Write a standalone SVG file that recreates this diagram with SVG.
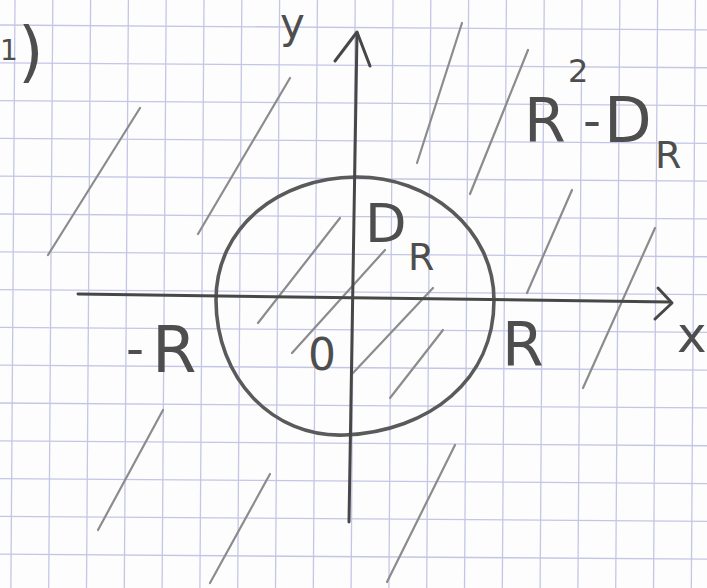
<svg xmlns="http://www.w3.org/2000/svg" width="707" height="588" viewBox="0 0 707 588">
<style>
.g line{stroke:#c4c6e6;stroke-width:1.3}
.hatch{stroke:#8c8c8c;stroke-width:2.2;stroke-linecap:round;fill:none}
.axis{stroke:#474747;stroke-width:3;stroke-linecap:round;stroke-linejoin:round;fill:none}
.circ{stroke:#5a5a5a;stroke-width:3.6;fill:none}
.lbl{font-family:"DejaVu Sans",sans-serif;fill:#4e4e4e}
</style>
<rect width="707" height="588" fill="#fdfdfd"/>
<g class="g" id="grid" transform="rotate(0.4)">
<line x1="15" y1="-10" x2="15" y2="600"/>
<line x1="52.8" y1="-10" x2="52.8" y2="600"/>
<line x1="90.6" y1="-10" x2="90.6" y2="600"/>
<line x1="128.4" y1="-10" x2="128.4" y2="600"/>
<line x1="166.2" y1="-10" x2="166.2" y2="600"/>
<line x1="204" y1="-10" x2="204" y2="600"/>
<line x1="241.8" y1="-10" x2="241.8" y2="600"/>
<line x1="279.6" y1="-10" x2="279.6" y2="600"/>
<line x1="317.4" y1="-10" x2="317.4" y2="600"/>
<line x1="355.2" y1="-10" x2="355.2" y2="600"/>
<line x1="393" y1="-10" x2="393" y2="600"/>
<line x1="430.8" y1="-10" x2="430.8" y2="600"/>
<line x1="468.6" y1="-10" x2="468.6" y2="600"/>
<line x1="506.4" y1="-10" x2="506.4" y2="600"/>
<line x1="544.2" y1="-10" x2="544.2" y2="600"/>
<line x1="582" y1="-10" x2="582" y2="600"/>
<line x1="619.8" y1="-10" x2="619.8" y2="600"/>
<line x1="657.6" y1="-10" x2="657.6" y2="600"/>
<line x1="695.4" y1="-10" x2="695.4" y2="600"/>
<line x1="-10" y1="25" x2="720" y2="25"/>
<line x1="-10" y1="62.8" x2="720" y2="62.8"/>
<line x1="-10" y1="100.6" x2="720" y2="100.6"/>
<line x1="-10" y1="138.4" x2="720" y2="138.4"/>
<line x1="-10" y1="176.2" x2="720" y2="176.2"/>
<line x1="-10" y1="214" x2="720" y2="214"/>
<line x1="-10" y1="251.8" x2="720" y2="251.8"/>
<line x1="-10" y1="289.6" x2="720" y2="289.6"/>
<line x1="-10" y1="327.4" x2="720" y2="327.4"/>
<line x1="-10" y1="365.2" x2="720" y2="365.2"/>
<line x1="-10" y1="403" x2="720" y2="403"/>
<line x1="-10" y1="440.8" x2="720" y2="440.8"/>
<line x1="-10" y1="478.6" x2="720" y2="478.6"/>
<line x1="-10" y1="516.4" x2="720" y2="516.4"/>
<line x1="-10" y1="554.2" x2="720" y2="554.2"/>
</g>

<g id="hatching">
<line class="hatch" x1="48" y1="255" x2="140" y2="108"/>
<line class="hatch" x1="198" y1="234" x2="290" y2="78"/>
<line class="hatch" x1="417" y1="163" x2="462" y2="23"/>
<line class="hatch" x1="470" y1="194" x2="528" y2="50"/>
<line class="hatch" x1="527" y1="293" x2="572" y2="190"/>
<line class="hatch" x1="583" y1="388" x2="655" y2="228"/>
<line class="hatch" x1="258" y1="323" x2="340" y2="218"/>
<line class="hatch" x1="292" y1="353" x2="385" y2="250"/>
<line class="hatch" x1="353" y1="373" x2="433" y2="288"/>
<line class="hatch" x1="390" y1="398" x2="443" y2="330"/>
<line class="hatch" x1="98" y1="530" x2="163" y2="410"/>
<line class="hatch" x1="210" y1="583" x2="270" y2="474"/>
<line class="hatch" x1="387" y1="582" x2="455" y2="445"/>
</g>

<g id="circle">
<path class="circ" d="M216,300 C216,226 280,178 355,177 C430,176 494,230 494,300 C494,380 430,431 345,435 C272,438 216,378 216,300 Z"/>
</g>

<g id="connectors">
<g id="x-axis">
<path class="axis" d="M78,294 L670,302"/>
<path class="axis" d="M658,288 L672,303 L655,319"/>
</g>
<g id="y-axis">
<path class="axis" d="M357,33 L349,522"/>
<path class="axis" d="M335,61 L357,32 L370,66"/>
</g>
</g>

<g id="labels">
<text class="lbl" font-size="28" x="0" y="60">1</text>
<text class="lbl" font-size="66" x="18" y="74">)</text>
<text class="lbl" font-size="42" x="280" y="38">y</text>
<text class="lbl" font-size="50" x="677" y="352">x</text>
<text class="lbl"><tspan font-size="60" x="524" y="142">R</tspan><tspan font-size="32" x="568" y="82">2</tspan><tspan font-size="50" x="583" y="138">-</tspan><tspan font-size="62" x="604" y="142">D</tspan><tspan font-size="38" x="655" y="168">R</tspan></text>
<text class="lbl"><tspan font-size="54" x="365" y="242">D</tspan><tspan font-size="38" x="408" y="270">R</tspan></text>
<text class="lbl"><tspan font-size="50" x="126" y="366">-</tspan><tspan font-size="64" x="152" y="372">R</tspan></text>
<text class="lbl" font-size="60" x="502" y="366">R</text>
<text class="lbl" font-size="44" x="308" y="370">0</text>
</g>
</svg>
